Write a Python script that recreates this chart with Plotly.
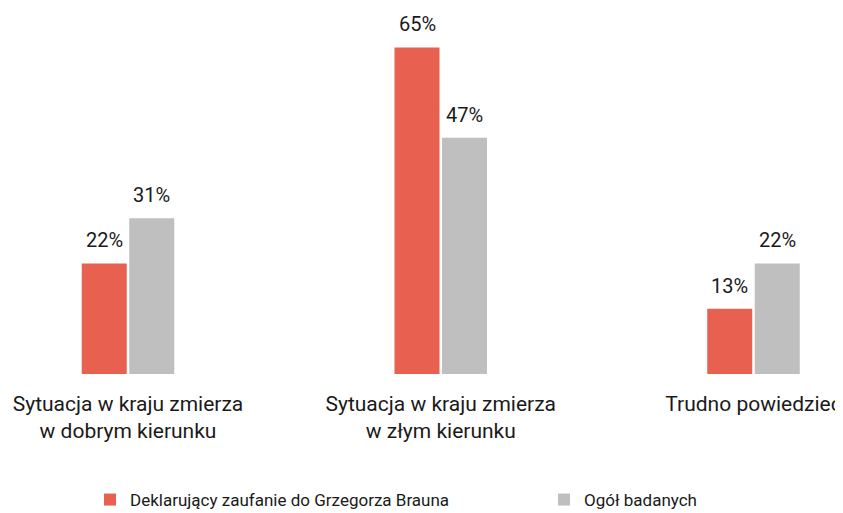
import plotly.graph_objects as go

categories = ["Sytuacja w kraju zmierza<br>w dobrym kierunku",
              "Sytuacja w kraju zmierza<br>w złym kierunku",
              "Trudno powiedzieć"]
series_names = ["Deklarujący zaufanie do Grzegorza Brauna", "Ogół badanych"]
braun_values = [22, 65, 13]
all_values = [31, 47, 22]
colors = ["#E8604F", "#BFBFBF"]

FONT = "Roboto"
fig = go.Figure()
for k, (name, vals, col) in enumerate(zip(series_names, [braun_values, all_values], colors)):
    fig.add_trace(go.Bar(x=list(range(len(categories))), y=vals, name=name,
                         marker=dict(color=col, line=dict(width=0)),
                         legend="legend" if k == 0 else "legend2",
                         hoverinfo="skip"))

# value labels above bars
slot_px = 23.75
for k, vals in enumerate([braun_values, all_values]):
    shift = -slot_px if k == 0 else slot_px
    for i, v in enumerate(vals):
        fig.add_annotation(x=i, y=v, text=f"{v}%", showarrow=False,
                           xshift=shift, yshift=9, yanchor="bottom",
                           font=dict(family=FONT, size=20, color="#1a1a1a"))

leg_common = dict(orientation="h", yref="container", xref="container",
                  yanchor="middle", y=1 - 492 / 505, xanchor="left",
                  font=dict(family=FONT, size=17, color="#1a1a1a"),
                  bgcolor="rgba(0,0,0,0)")
fig.update_layout(
    width=835, height=505,
    margin=dict(l=0, r=0, t=12, b=139),
    paper_bgcolor="white", plot_bgcolor="white",
    barmode="group", bargap=0.6962, bargroupgap=0.0526,
    font=dict(family=FONT, size=20, color="#1a1a1a"),
    xaxis=dict(range=[-0.3837, 2.2862], tickmode="array",
               tickvals=list(range(len(categories))), ticktext=categories,
               showgrid=False, zeroline=False, showline=False, ticks="",
               automargin=False, ticklabelstandoff=15,
               tickfont=dict(family=FONT, size=21, color="#1a1a1a")),
    yaxis=dict(range=[0, 70.45], visible=False, automargin=False),
    showlegend=True,
    legend=dict(x=82 / 835, **leg_common),
    legend2=dict(x=536 / 835, **leg_common),
)
fig.write_html("out.html")
